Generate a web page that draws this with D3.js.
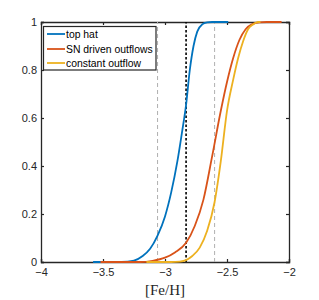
<!DOCTYPE html>
<html>
<head>
<meta charset="utf-8">
<script src="https://cdn.jsdelivr.net/npm/d3@7"></script>
<style>
  html, body { margin: 0; padding: 0; background: #fff; }
  svg { display: block; }
</style>
</head>
<body>
<svg id="chart" width="319" height="300"></svg>
<script>
// ---- data ----
const seriesNames = ["top hat", "SN driven outflows", "constant outflow"];
const seriesColors = ["#0072BD", "#D95319", "#EDB120"];

const topHatX = [-3.58, -3.35, -3.25, -3.18, -3.12, -3.06, -3.0, -2.95, -2.9, -2.86, -2.83, -2.80, -2.77, -2.74, -2.70, -2.66, -2.62, -2.49];
const topHatY = [0, 0, 0.006, 0.025, 0.055, 0.11, 0.19, 0.29, 0.42, 0.55, 0.655, 0.80, 0.90, 0.96, 0.99, 0.998, 1, 1];

const snX = [-3.52, -3.2, -3.1, -3.0, -2.92, -2.83, -2.76, -2.69, -2.62, -2.55, -2.5, -2.45, -2.40, -2.35, -2.30, -2.24, -2.18, -2.06];
const snY = [0, 0, 0.005, 0.018, 0.04, 0.08, 0.15, 0.26, 0.44, 0.63, 0.75, 0.85, 0.925, 0.97, 0.99, 0.998, 1, 1];

const constX = [-3.15, -2.95, -2.88, -2.83, -2.78, -2.72, -2.66, -2.60, -2.55, -2.50, -2.45, -2.41, -2.37, -2.33, -2.29, -2.25, -2.23];
const constY = [0, 0, 0.002, 0.008, 0.025, 0.06, 0.13, 0.25, 0.42, 0.63, 0.76, 0.85, 0.92, 0.97, 0.99, 1, 1];

const grayLinesX = [-3.06, -2.60];
const blackLineX = [-2.83];

const xTicks = [-4, -3.5, -3, -2.5, -2];
const yTicks = [0, 0.2, 0.4, 0.6, 0.8, 1];
const xLabel = "[Fe/H]";

// ---- layout ----
const svg = d3.select("#chart");
const L = 41, R = 289, T = 22, B = 262;
const x = d3.scaleLinear().domain([-4, -2]).range([L, R]);
const y = d3.scaleLinear().domain([0, 1]).range([B, T]);
const axisColor = "#262626";
const font = "'Liberation Sans', Arial, Helvetica, sans-serif";

// axes (below data, MATLAB style)
const gx = svg.append("g").attr("transform", `translate(0,${B})`)
  .call(d3.axisBottom(x).tickValues(xTicks).tickSize(-3).tickPadding(6).tickFormat(d3.format("")));
const gxt = svg.append("g").attr("transform", `translate(0,${T})`)
  .call(d3.axisTop(x).tickValues(xTicks).tickSize(-3).tickFormat(""));
const gy = svg.append("g").attr("transform", `translate(${L},0)`)
  .call(d3.axisLeft(y).tickValues(yTicks).tickSize(-3).tickPadding(4).tickFormat(d3.format("")));
const gyr = svg.append("g").attr("transform", `translate(${R},0)`)
  .call(d3.axisRight(y).tickValues(yTicks).tickSize(-3).tickFormat(""));

[gx, gxt, gy, gyr].forEach(g => {
  g.select(".domain").attr("stroke", axisColor).attr("stroke-width", 1.3);
  g.selectAll(".tick line").attr("stroke", axisColor).attr("stroke-width", 1.2);
  g.selectAll("text").attr("fill", axisColor).style("font-family", font).style("font-size", "11px");
});
gx.selectAll("text").attr("dy", "0.71em");

// reference vertical lines
svg.selectAll("line.gray").data(grayLinesX).enter().append("line")
  .attr("x1", d => x(d)).attr("x2", d => x(d)).attr("y1", y(0)).attr("y2", y(1))
  .attr("stroke", "#b0b0b0").attr("stroke-width", 1).attr("stroke-dasharray", "4,3");
svg.selectAll("line.black").data(blackLineX).enter().append("line")
  .attr("x1", d => x(d)).attr("x2", d => x(d)).attr("y1", y(0)).attr("y2", y(1))
  .attr("stroke", "#000").attr("stroke-width", 1.6).attr("stroke-dasharray", "2.5,2");

// curves
const seriesData = [
  d3.zip(topHatX, topHatY),
  d3.zip(snX, snY),
  d3.zip(constX, constY)
];
const line = d3.line().x(d => x(d[0])).y(d => y(d[1])).curve(d3.curveMonotoneX);
seriesData.forEach((pts, i) => {
  svg.append("path").datum(pts).attr("d", line)
    .attr("fill", "none").attr("stroke", seriesColors[i]).attr("stroke-width", 1.8);
});

// legend
const lg = svg.append("g");
lg.append("rect").attr("x", 43.5).attr("y", 26.5).attr("width", 112.5).attr("height", 43.5)
  .attr("fill", "#fff").attr("stroke", axisColor).attr("stroke-width", 1.2);
const legY = [34, 49, 63];
seriesNames.forEach((name, i) => {
  lg.append("line").attr("x1", 47).attr("x2", 65).attr("y1", legY[i]).attr("y2", legY[i])
    .attr("stroke", seriesColors[i]).attr("stroke-width", 1.8);
  lg.append("text").attr("x", 66).attr("y", legY[i]).attr("dy", "0.35em")
    .attr("fill", "#000").style("font-family", font).style("font-size", "10.4px").text(name);
});

// x label
svg.append("text").attr("x", 165).attr("y", 295).attr("text-anchor", "middle")
  .attr("fill", axisColor).style("font-family", "'Liberation Serif', 'DejaVu Serif', serif")
  .style("font-size", "15px").text(xLabel);
</script>
</body>
</html>
